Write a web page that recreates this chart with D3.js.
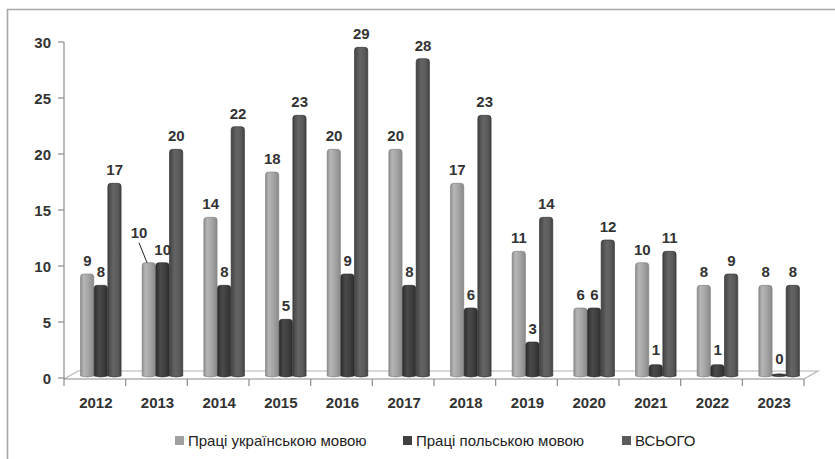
<!DOCTYPE html>
<html>
<head>
<meta charset="utf-8">
<script src="https://cdn.jsdelivr.net/npm/d3@7/dist/d3.min.js"></script>
<style>
  body { margin: 0; background: #fff; }
  svg { display: block; }
</style>
</head>
<body>
<svg id="chart" width="835" height="459"></svg>
<script>
var years = ["2012","2013","2014","2015","2016","2017","2018","2019","2020","2021","2022","2023"];
var ukrainian = [9,10,14,18,20,20,17,11,6,10,8,8];
var polish = [8,10,8,5,9,8,6,3,6,1,1,0];
var total = [17,20,22,23,29,28,23,14,12,11,9,8];
var seriesNames = ["Праці українською мовою", "Праці польською мовою", "ВСЬОГО"];
var yTicks = [0,5,10,15,20,25,30];

var svg = d3.select("#chart");
var W = 835, H = 459;

// frame of the embedded chart
svg.append("path")
  .attr("d", "M7.5," + H + "V9.5H" + W)
  .attr("fill", "none").attr("stroke", "#a8a8a8").attr("stroke-width", 1.6);

var left = 64, right = 804, floorY = 379, depthX = 14, depthY = 8;

var x = d3.scaleBand().domain(years).range([left, right]);
var x1 = d3.scaleBand().domain(d3.range(3)).range([16.5, 57.5]);
var yAxisScale = d3.scaleLinear().domain([0, 30]).range([378, 42]);
var yBar = d3.scaleLinear().domain([0, 30]).range([376, 36]);

var defs = svg.append("defs");
var grads = [
  [["0%","#8e8e8e"],["25%","#b6b6b6"],["60%","#a4a4a4"],["100%","#8a8a8a"]],
  [["0%","#2c2c2c"],["35%","#4a4a4a"],["70%","#3e3e3e"],["100%","#2e2e2e"]],
  [["0%","#444"],["40%","#646464"],["75%","#5a5a5a"],["100%","#444"]]
];
grads.forEach(function(stops, i){
  var g = defs.append("linearGradient").attr("id", "g" + i)
    .attr("x1", "0%").attr("x2", "100%").attr("y1", "0%").attr("y2", "0%");
  stops.forEach(function(s){ g.append("stop").attr("offset", s[0]).attr("stop-color", s[1]); });
});
var legendColors = ["#a0a0a0", "#404040", "#5a5a5a"];
var boldFont = "bold 15px 'Liberation Sans', Arial, sans-serif";

// floor
svg.append("path")
  .attr("d", "M" + left + "," + floorY + "L" + (left + depthX) + "," + (floorY - depthY) +
             "H" + (right + depthX) + "L" + right + "," + floorY)
  .attr("fill", "none").attr("stroke", "#b4b4b4").attr("stroke-width", 1.2);

// y axis
svg.append("line").attr("x1", left).attr("x2", left).attr("y1", 42).attr("y2", floorY)
  .attr("stroke", "#8c8c8c").attr("stroke-width", 1.2);
var yg = svg.append("g");
yg.selectAll("line").data(yTicks).enter().append("line")
  .attr("x1", 58).attr("x2", left)
  .attr("y1", function(d){ return yAxisScale(d); }).attr("y2", function(d){ return yAxisScale(d); })
  .attr("stroke", "#8c8c8c").attr("stroke-width", 1.2);
yg.selectAll("text").data(yTicks).enter().append("text")
  .attr("x", 51).attr("y", function(d){ return yAxisScale(d) + 5.5; })
  .attr("text-anchor", "end")
  .style("font", boldFont).style("fill", "#333")
  .text(function(d){ return d; });

// x axis
svg.append("line").attr("x1", left).attr("x2", right).attr("y1", floorY).attr("y2", floorY)
  .attr("stroke", "#8c8c8c").attr("stroke-width", 1.2);
var xg = svg.append("g");
xg.selectAll("line").data(years.concat(["end"])).enter().append("line")
  .attr("x1", function(d, i){ return left + i * x.step(); })
  .attr("x2", function(d, i){ return left + i * x.step(); })
  .attr("y1", floorY).attr("y2", floorY + 7)
  .attr("stroke", "#8c8c8c").attr("stroke-width", 1.2);
xg.selectAll("text").data(years).enter().append("text")
  .attr("x", function(d){ return x(d) + x.bandwidth() / 2 + 1; })
  .attr("y", 408)
  .attr("text-anchor", "middle")
  .style("font", boldFont).style("fill", "#333")
  .text(function(d){ return d; });

// bars
var series = [ukrainian, polish, total];
var rows = [];
series.forEach(function(vals, s){
  vals.forEach(function(v, i){ rows.push({ s: s, i: i, v: v, year: years[i] }); });
});

function barPath(d){
  var bx = x(d.year) + x1(d.s), w = x1.bandwidth() - 0.4;
  var top = yBar(d.v), bot = yBar(0);
  if (d.v === 0) {
    return "M" + bx + "," + (bot - 1.5) + "Q" + (bx + w / 2) + "," + (bot - 3) + " " + (bx + w) + "," + (bot - 1.5) +
           "V" + bot + "Q" + (bx + w / 2) + "," + (bot + 1.5) + " " + bx + "," + bot + "Z";
  }
  var r = 3;
  return "M" + bx + "," + bot + "V" + (top + r) +
         "Q" + bx + "," + top + " " + (bx + r) + "," + top +
         "H" + (bx + w - r) +
         "Q" + (bx + w) + "," + top + " " + (bx + w) + "," + (top + r) +
         "V" + bot +
         "Q" + (bx + w / 2) + "," + (bot + 2) + " " + bx + "," + bot + "Z";
}

svg.append("g").selectAll("path").data(rows).enter().append("path")
  .attr("d", barPath)
  .attr("fill", function(d){ return "url(#g" + d.s + ")"; })
  .attr("stroke", function(d){ return d.s === 0 ? "#7c7c7c" : "#2a2a2a"; })
  .attr("stroke-width", 0.6);

// data labels
var lg = svg.append("g");
rows.forEach(function(d){
  var cx = x(d.year) + x1(d.s) + x1.bandwidth() / 2;
  var ly = yBar(d.v) - 8;
  if (d.v === 0) ly -= 4;
  if (d.v === 1) ly -= 2;
  var moved = (d.s === 0 && d.i === 1);
  if (moved) {
    // label pulled aside with a leader line, as in the original
    lg.append("line")
      .attr("x1", cx - 10).attr("y1", yBar(d.v) - 20)
      .attr("x2", cx - 2).attr("y2", yBar(d.v))
      .attr("stroke", "#222").attr("stroke-width", 1);
    cx -= 10; ly -= 17;
  }
  lg.append("text")
    .attr("x", cx).attr("y", ly)
    .attr("text-anchor", "middle")
    .style("font", boldFont).style("fill", "#333")
    .text(d.v);
});

// legend
var legendX = [175, 403, 622];
var leg = svg.append("g");
seriesNames.forEach(function(name, i){
  leg.append("rect").attr("x", legendX[i]).attr("y", 436).attr("width", 9).attr("height", 9)
    .attr("fill", legendColors[i]);
  leg.append("text").attr("x", legendX[i] + 13).attr("y", 446)
    .style("font", "15px 'Liberation Sans', Arial, sans-serif").style("fill", "#222")
    .text(name);
});
</script>
</body>
</html>
